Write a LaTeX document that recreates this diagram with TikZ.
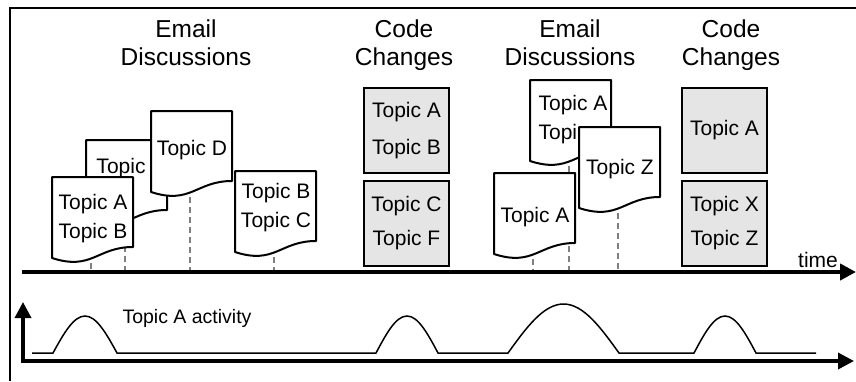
\documentclass[tikz,border=0pt]{standalone}
\usepackage{fontspec}
\setmainfont{Liberation Sans}
\usetikzlibrary{arrows.meta,backgrounds}

\tikzset{
  pageline/.style={fill=white, line width=2pt, line join=round},
  page/.pic={
    \filldraw[pageline] (0,0) -- (81,0) -- (81,70) .. controls (45,70) and (40,94) .. (0,81) -- cycle;
    \coordinate (-b) at (39,76);
  }
}

\begin{document}
\begin{tikzpicture}[x=1pt, y=-1pt, >={Triangle[length=16pt, width=16pt]},
  heading/.style={anchor=north, align=center, font=\fontsize{24.5}{28}\selectfont},
  pagetext/.style={align=center, font=\fontsize{21}{29}\selectfont},
  codebox/.style={draw, line width=2pt, fill=black!10, minimum width=85pt, minimum height=85pt, align=center, font=\fontsize{21}{34}\selectfont},
  dashline/.style={black!50, line width=1.5pt, dash pattern=on 6pt off 4pt},
  activity/.style={line width=1.5pt}]
	\useasboundingbox (0,0) rectangle (856,381);
	\draw[line width=2pt] (856,8) -- (10,8) -- (10,381);
	% headings
	\node[heading] (em1) at (186,16) {Email\\Discussions};
	\node[heading] (cc1) at (404,16) {Code\\Changes};
	\node[heading] (em2) at (570,16) {Email\\Discussions};
	\node[heading] (cc2) at (731,16) {Code\\Changes};
	% emails, first round
	\pic (pT) at (86,140) {page};
	\node[pagetext] (tT) at (121,168) {Topic};
	\pic (pD) at (151,111) {page};
	\node[pagetext] (tD) at (192,150) {Topic D};
	\pic (pAB) at (52,177) {page};
	\node[pagetext] (tAB) at (93,219) {Topic A\\Topic B};
	\pic (pBC) at (235,171) {page};
	\node[pagetext] (tBC) at (276,208) {Topic B\\Topic C};
	% emails, second round
	\pic (pAB2) at (530,80) {page};
	\node[pagetext, align=left] (tAB2) at (573,120) {Topic A\\Topi};
	\pic (pZ) at (579,127) {page};
	\node[pagetext] (tZ) at (620,169) {Topic Z};
	\pic (pA2) at (494,173) {page};
	\node[pagetext] (tA2) at (535,217) {Topic A};
	% code changes
	\node[codebox] (cAB) at (406.5,130.5) {Topic A\\[3pt]Topic B};
	\node[codebox] (cCF) at (406.5,223.5) {Topic C\\Topic F};
	\node[codebox] (cA) at (724.5,130.5) {Topic A};
	\node[codebox] (cXZ) at (724.5,223.5) {Topic X\\Topic Z};
	% time axis
	\coordinate (ta) at (22,272);
	\coordinate (tb) at (856,272);
	\draw[->, line width=4pt] (ta) -- (tb);
	\node[anchor=base, font=\fontsize{21}{24}\selectfont] (time) at (818,267) {time};
	\begin{pgfonlayer}{background}
		\foreach \p in {pT,pD,pAB,pBC,pAB2,pZ,pA2}
			\draw[dashline] (\p-b) -- (\p-b |- ta);
	\end{pgfonlayer}
	% activity
	\coordinate (ay) at (23,302);
	\coordinate (ax) at (854,361);
	\draw[<->, line width=3.5pt] (ay) |- (ax);
	\draw[activity] (32,353) -- (53,353) sin (85,316) cos (117,353) -- (376,353) sin (407,316) cos (438,353)
		-- (508,353) sin (563.5,304) cos (619,353) -- (694,353) sin (725,316) cos (756,353) -- (816,353);
	\node[anchor=base west, font=\fontsize{19.5}{22}\selectfont] (act) at (119,323) {Topic A activity};
\end{tikzpicture}
\end{document}
